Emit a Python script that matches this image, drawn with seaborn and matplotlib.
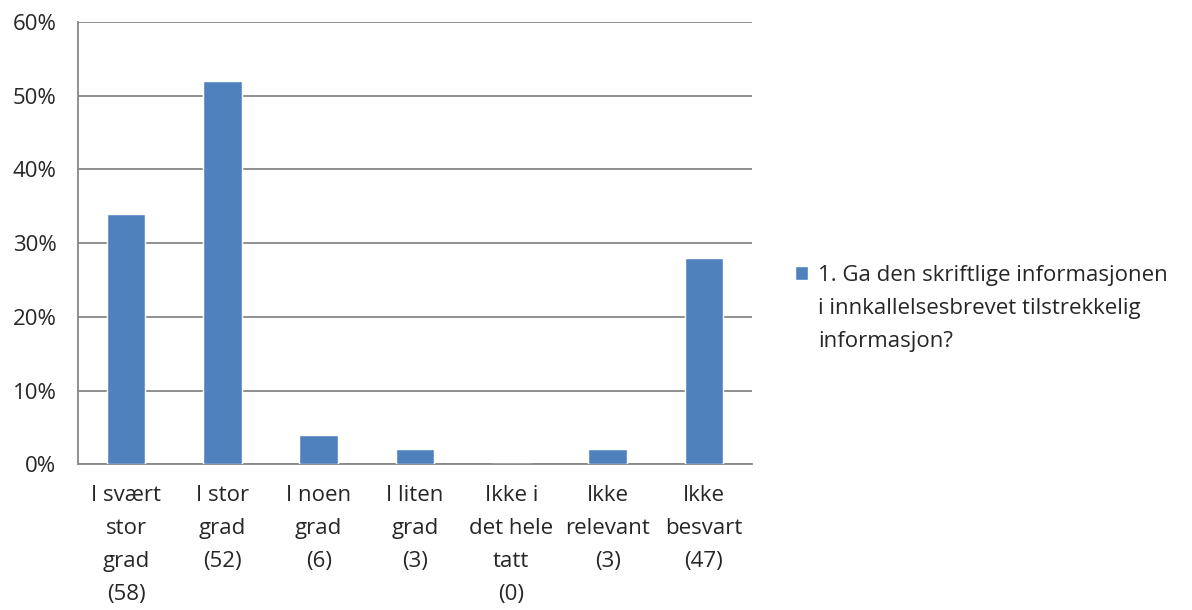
import numpy as np
import pandas as pd
import seaborn as sns
import matplotlib.pyplot as plt
from matplotlib.ticker import FixedLocator, PercentFormatter

# Data
categories = [
    "I svært\nstor\ngrad\n(58)",
    "I stor\ngrad\n(52)",
    "I noen\ngrad\n(6)",
    "I liten\ngrad\n(3)",
    "Ikke i\ndet hele\ntatt\n(0)",
    "Ikke\nrelevant\n(3)",
    "Ikke\nbesvart\n(47)",
]
percent = [34, 52, 4, 2, 0, 2, 28]
series_name = "1. Ga den skriftlige informasjonen\ni innkallelsesbrevet tilstrekkelig\ninformasjon?"

df = pd.DataFrame({"category": categories, "percent": percent})

sns.set_style("white")
plt.rcParams["font.family"] = ["Open Sans", "DejaVu Sans"]

fig = plt.figure(figsize=(11.92, 6.10), dpi=100)
ax = fig.add_axes([0.0654, 0.239, 0.5655, 0.725])

sns.barplot(data=df, x="category", y="percent", color="#4F81BD",
            width=0.4, saturation=1, label=series_name, ax=ax, zorder=3)

ax.set_ylim(0, 60)
ax.set_xlim(-0.5, len(categories) - 0.5)
ax.set_yticks(np.arange(0, 61, 10))
ax.yaxis.set_major_formatter(PercentFormatter(decimals=0))
ax.grid(axis="y", color="#878787", linewidth=1.3, zorder=0)

gray = "#878787"
for side in ["top", "right"]:
    ax.spines[side].set_visible(False)
ax.spines["left"].set_color(gray)
ax.spines["bottom"].set_color(gray)
ax.spines["left"].set_linewidth(1.3)
ax.spines["bottom"].set_linewidth(1.3)

ax.tick_params(axis="y", length=4.5, width=1.3, color=gray, labelsize=16, pad=11)
ax.tick_params(axis="x", which="major", length=0, labelsize=16, pad=15)
ax.xaxis.set_minor_locator(FixedLocator(np.arange(-0.5, len(categories), 1)))
ax.tick_params(axis="x", which="minor", length=5, width=1.3, color=gray)
ax.set_xlabel("")
ax.set_ylabel("")
for lbl in ax.get_xticklabels():
    lbl.set_linespacing(1.75)

leg = ax.legend(loc="upper left", bbox_to_anchor=(0.667, 0.565),
                bbox_transform=fig.transFigure, frameon=False,
                fontsize=16, handlelength=0.6, handleheight=0.6,
                handletextpad=0.45, borderpad=0, borderaxespad=0)
for t in leg.get_texts():
    t.set_linespacing(1.75)
# square sits next to the first line, as in the original
h = leg.legend_handles[0]
h.set_y(h.get_y() + 26)

fig.savefig("out.png", dpi=100)
